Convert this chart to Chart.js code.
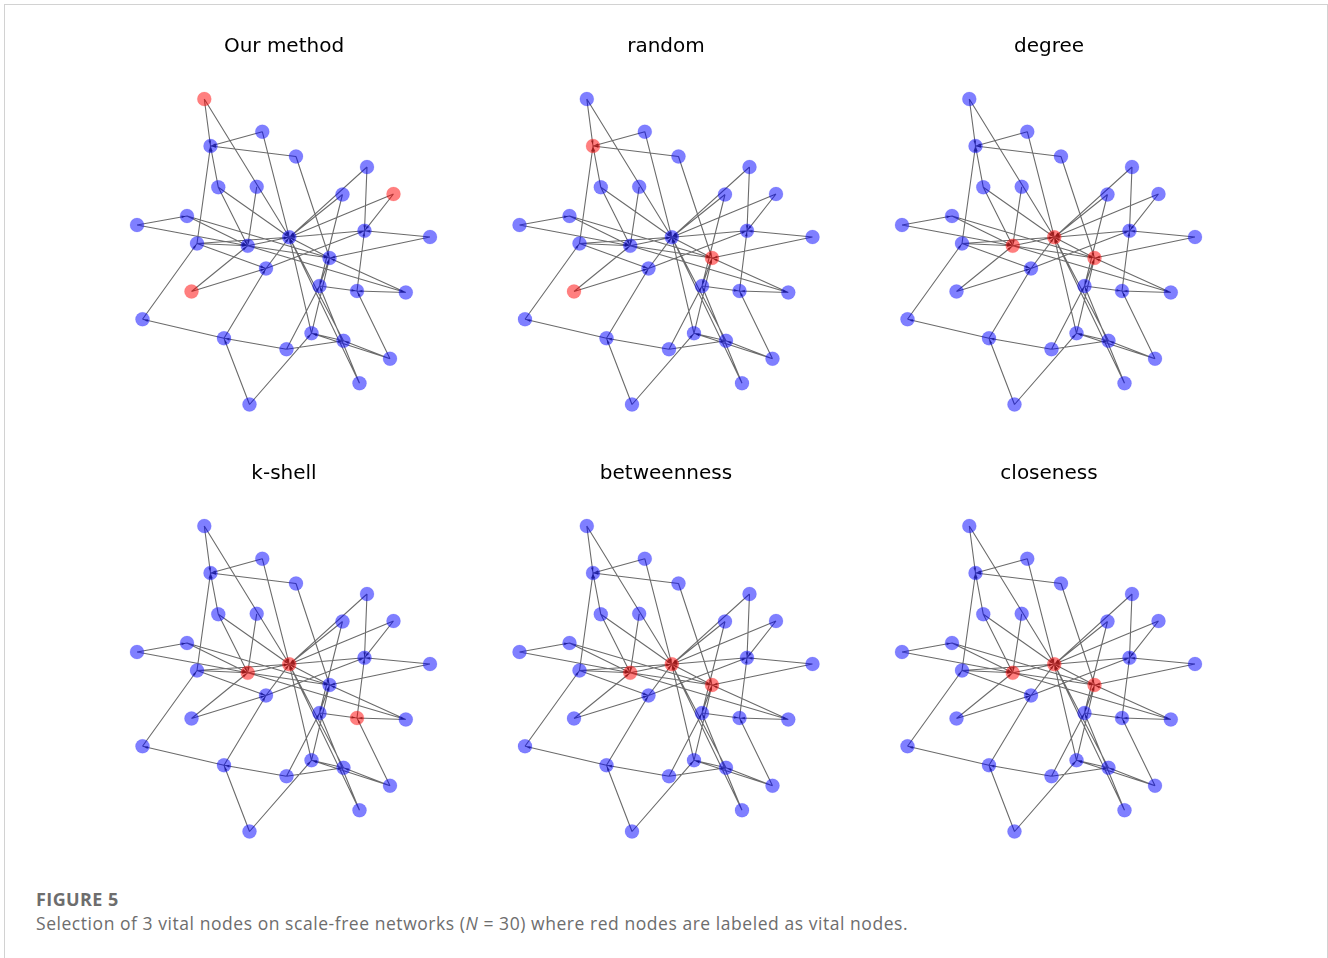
<!DOCTYPE html>
<html>
<head>
<meta charset="utf-8">
<title>Selection of vital nodes</title>
<script src="https://cdn.jsdelivr.net/npm/chart.js@4.4.1/dist/chart.umd.min.js"></script>
<style>
  html, body { margin: 0; padding: 0; background: #fff; }
  body { width: 1328px; height: 958px; position: relative; overflow: hidden; }
  #frame { position: absolute; left: 4px; top: 4px; width: 1324px; height: 980px;
           border: 1px solid #d2d2d2; box-sizing: border-box; }
  canvas { position: absolute; }
  #caption { position: absolute; left: 36px; top: 887px; font-family: "Open Sans", "Noto Sans", sans-serif; color: #6d6d6d; }
  #caption .label { font-weight: 700; font-size: 18px; line-height: 24px; letter-spacing: 0.4px; }
  #caption .text { font-size: 17.5px; line-height: 24px; letter-spacing: 0.55px; white-space: nowrap; }
</style>
</head>
<body>
<div id="frame"></div>
<div id="caption">
  <div class="label">FIGURE 5</div>
  <div class="text">Selection of 3 vital nodes on scale-free networks (<i>N</i> = 30) where red nodes are labeled as vital nodes.</div>
</div>
<script>
// Node layout of the 30-node scale-free network (same layout in every panel)
const nodeX = [-79.2, -21.2, -73.0, 12.5, 83.5, 110.0, -65.2, -26.8, 59.0, -146.5,
               -96.5, -86.5, -35.8, 5.8, 81.0, 146.5, 46.0, -17.5, -92.0, 36.0,
               73.5, 122.3, -141.0, -59.5, 28.0, 60.0, 3.0, 106.5, 76.0, -34.0];
const nodeY = [152.5, 119.8, 105.5, 95.0, 84.5, 57.5, 64.2, 64.7, 57.0, 26.5,
               35.5, 8.0, 5.7, 14.2, 20.7, 14.5, -6.5, -17.0, -40.0, -34.5,
               -39.5, -41.0, -67.8, -86.8, -81.8, -89.3, -97.8, -107.2, -131.8, -153.0];

// Directed links: [source, target]
const edgeSource = [0, 0, 1, 3, 6, 11, 1, 3, 6, 6, 7, 4, 8, 5, 5, 4, 20, 8, 9, 9,
                    10, 10, 11, 11, 22, 12, 12, 14, 16, 17, 24, 28, 15, 15, 21, 19, 18, 18, 23, 19,
                    21, 27, 23, 26, 29, 29, 25, 26, 27, 17, 11, 24, 25, 26, 12, 27, 28];
const edgeTarget = [2, 13, 2, 2, 2, 2, 13, 16, 12, 13, 12, 13, 13, 13, 14, 14, 14, 19, 10, 12,
                    12, 16, 12, 17, 11, 13, 16, 13, 13, 13, 13, 13, 14, 16, 16, 16, 17, 12, 17, 20,
                    20, 20, 22, 23, 23, 24, 24, 25, 25, 14, 13, 16, 13, 19, 21, 24, 19];

// Panels: title and the three nodes each method marks as vital
const panelTitles = ['Our method', 'random', 'degree', 'k-shell', 'betweenness', 'closeness'];
const vitalOurMethod   = [0, 5, 18];
const vitalRandom      = [2, 18, 16];
const vitalDegree      = [12, 13, 16];
const vitalKShell      = [12, 13, 20];
const vitalBetweenness = [12, 13, 16];
const vitalCloseness   = [12, 13, 16];
const panelVital = [vitalOurMethod, vitalRandom, vitalDegree, vitalKShell, vitalBetweenness, vitalCloseness];

const BLUE = 'rgba(0, 0, 255, 0.5)';
const RED = 'rgba(255, 0, 0, 0.5)';
const EDGE = '#6b6b6b';

// Small arrowheads at each link's target, drawn right after the link lines
const arrowHeads = {
  id: 'arrowHeads',
  afterDatasetDraw(chart, args) {
    if (args.index !== 1) return;
    const ctx = chart.ctx, xs = chart.scales.x, ys = chart.scales.y;
    ctx.save();
    ctx.fillStyle = 'rgba(45, 45, 45, 0.75)';
    for (let k = 0; k < edgeSource.length; k++) {
      const s = edgeSource[k], t = edgeTarget[k];
      const x0 = xs.getPixelForValue(nodeX[s]), y0 = ys.getPixelForValue(nodeY[s]);
      const x1 = xs.getPixelForValue(nodeX[t]), y1 = ys.getPixelForValue(nodeY[t]);
      const d = Math.hypot(x1 - x0, y1 - y0);
      const ux = (x1 - x0) / d, uy = (y1 - y0) / d;
      const tipX = x1 - ux * 1.5, tipY = y1 - uy * 1.5;
      const bx = tipX - ux * 4, by = tipY - uy * 4;
      ctx.beginPath();
      ctx.moveTo(tipX, tipY);
      ctx.lineTo(bx - uy * 1.4, by + ux * 1.4);
      ctx.lineTo(bx + uy * 1.4, by - ux * 1.4);
      ctx.closePath();
      ctx.fill();
    }
    ctx.restore();
  }
};

const CANVAS_W = 380, CANVAS_H = 430;
const TITLE_PAD_TOP = 15, TITLE_PAD_BOTTOM = 10, TITLE_SIZE = 20;

panelTitles.forEach((title, i) => {
  const row = Math.floor(i / 3), col = i % 3;
  const cx = 283.5 + 382.5 * col;          // panel centre
  const cy = 251.5 + 427 * row;
  const left = Math.round(cx - CANVAS_W / 2);
  const top = 20 + 427 * row;
  const areaTop = top + TITLE_PAD_TOP + TITLE_SIZE * 1.2 + TITLE_PAD_BOTTOM;

  const canvas = document.createElement('canvas');
  canvas.width = CANVAS_W; canvas.height = CANVAS_H;
  canvas.style.left = left + 'px'; canvas.style.top = top + 'px';
  canvas.style.width = CANVAS_W + 'px'; canvas.style.height = CANVAS_H + 'px';
  document.body.appendChild(canvas);

  const vital = panelVital[i];
  const nodes = nodeX.map((x, n) => ({ x: x, y: nodeY[n] }));
  const colors = nodeX.map((_, n) => vital.includes(n) ? RED : BLUE);

  const links = [];
  for (let k = 0; k < edgeSource.length; k++) {
    const s = edgeSource[k], t = edgeTarget[k];
    links.push({ x: nodeX[s], y: nodeY[s] }, { x: nodeX[t], y: nodeY[t] }, { x: null, y: null });
  }

  new Chart(canvas, {
    type: 'scatter',
    data: {
      datasets: [
        { label: 'nodes', data: nodes, order: 0,
          pointRadius: 7, pointHoverRadius: 7, pointBorderWidth: 1,
          pointBackgroundColor: colors,
          pointBorderColor: colors.map(c => c === RED ? 'rgba(255,0,0,0.12)' : 'rgba(0,0,255,0.12)') },
        { label: 'links', data: links, order: 1, showLine: true, spanGaps: false,
          borderColor: EDGE, borderWidth: 1.1, pointRadius: 0, pointHoverRadius: 0 }
      ]
    },
    options: {
      responsive: false, animation: false, events: [],
      layout: { padding: 0, autoPadding: false },
      plugins: {
        legend: { display: false }, tooltip: { enabled: false },
        title: { display: true, text: title, color: '#000',
                 font: { family: 'DejaVu Sans', size: TITLE_SIZE, weight: 'normal', lineHeight: 1.2 },
                 padding: { top: TITLE_PAD_TOP, bottom: TITLE_PAD_BOTTOM } }
      },
      scales: {
        x: { type: 'linear', display: false, min: left - cx, max: left - cx + CANVAS_W },
        y: { type: 'linear', display: false, min: cy - (top + CANVAS_H), max: cy - areaTop }
      }
    },
    plugins: [arrowHeads]
  });
});
</script>
</body>
</html>
